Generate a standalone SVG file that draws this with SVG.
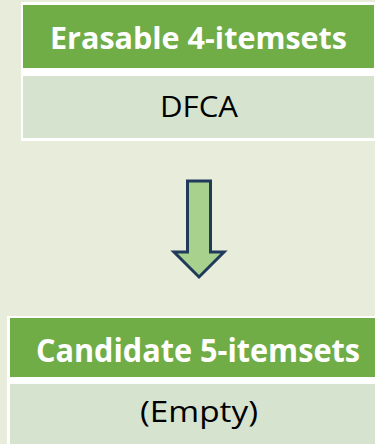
<svg xmlns="http://www.w3.org/2000/svg" width="375" height="444" viewBox="0 0 375 444">
<style>
.frame{fill:#FFFFFF}
.hdr{fill:#70AD47}
.body{fill:#D6E3CF}
.ht{font-family:"Open Sans","Liberation Sans",sans-serif;font-weight:bold;fill:#FFFFFF;text-anchor:middle}
.bt{font-family:"Open Sans","Liberation Sans",sans-serif;fill:#000000;text-anchor:middle}
</style>
<rect x="0" y="0" width="375" height="444" fill="#E8ECDA"/>
<g id="node-erasable4">
<rect class="frame" x="21" y="2" width="356" height="139"/>
<rect class="hdr" x="23" y="5" width="351" height="63"/>
<rect class="body" x="23" y="76" width="351" height="62"/>
<text class="ht" x="198.5" y="49" font-size="31" textLength="297" lengthAdjust="spacingAndGlyphs">Erasable 4-itemsets</text>
<text class="bt" x="199" y="117" font-size="29" textLength="78" lengthAdjust="spacingAndGlyphs">DFCA</text>
</g>
<g id="connectors">
<path d="M187.5,181 H210.5 V252 H224 L199,277 L174,252 H187.5 Z" fill="#A9D18E" stroke="#203A5C" stroke-width="3" stroke-linejoin="miter"/>
</g>
<g id="node-candidate5">
<rect class="frame" x="7" y="316" width="370" height="130"/>
<rect class="hdr" x="10" y="318" width="367" height="59"/>
<rect class="body" x="10" y="384" width="367" height="62"/>
<text class="ht" x="198" y="362" font-size="32" textLength="324" lengthAdjust="spacingAndGlyphs">Candidate 5-itemsets</text>
<text class="bt" x="199" y="422" font-size="30" textLength="118" lengthAdjust="spacingAndGlyphs">(Empty)</text>
</g>
</svg>
